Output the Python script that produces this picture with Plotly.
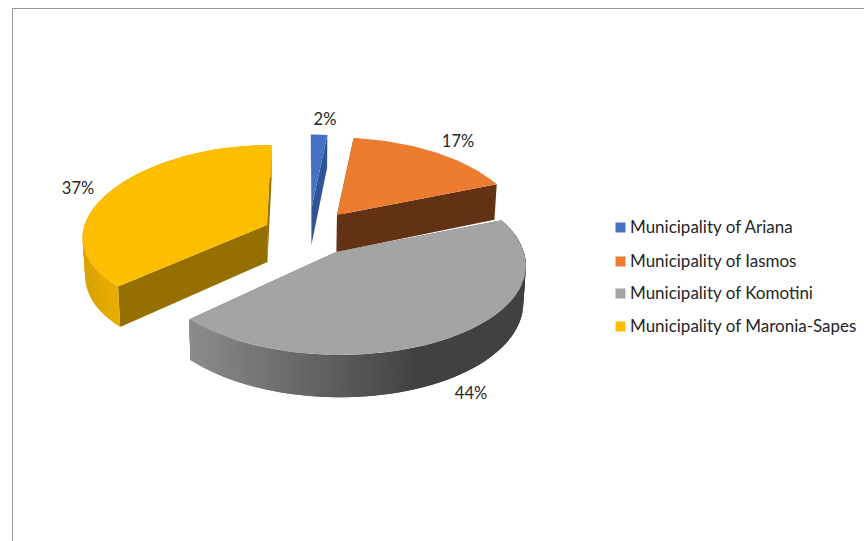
import math
import plotly.graph_objects as go

# Share of each municipality, in percent
municipalities = ["Municipality of Ariana", "Municipality of Iasmos",
                  "Municipality of Komotini", "Municipality of Maronia-Sapes"]
shares = [2, 17, 44, 37]

# Appearance of each slice; only the two front slices show their outer wall
top_colors = ["#4472C4", "#EC7C30", "#A4A4A4", "#FDBE00"]
cut_colors = ["#2F5597", "#633214", "#5F5F5F", "#957000"]
rim_ramps = [None,
             None,
             ("#8C8C8C", "#414141", 188, 420),
             ("#D8A200", "#EAB000", 82, 122)]

# Exploded position of each slice's apex, on the page
apex_x = [311.5, 337, 336, 267]
apex_y = [208, 215, 252, 225]

# Projection of the tilted disc, with a small correction per slice
RX, RY = 186, 90
PERSPECTIVE = 0.126
THICKNESS = 37
VANISH_X = 305
BOTTOM_SHRINK = 0.988
radius_x = [0.8, 0.975, 1.01, 0.98]
radius_y = [0.92, 0.97, 1.0, 0.95]
persp_y = [0.126, 0.126, 0.126, 0.07]

label_x = [325, 458, 471, 78]
label_y = [120.5, 142.5, 394.5, 189.5]
legend_y = [227, 261, 293, 326]

FONT = "Lato, Carlito, Calibri, sans-serif"


def project(i, theta, radius, lowered=False):
    c, n = math.cos(theta), math.sin(theta)
    s = 1 / (1 + PERSPECTIVE * radius * c)
    sy = 1 / (1 + persp_y[i] * radius * c)
    x = VANISH_X + (apex_x[i] - VANISH_X + radius * radius_x[i] * RX * n) * s
    y = apex_y[i] - radius * radius_y[i] * RY * c * sy
    if lowered:
        x = VANISH_X + (x - VANISH_X) * BOTTOM_SHRINK
        y += THICKNESS * s
    return x, y


def mix(c0, c1, t):
    t = min(1, max(0, t))
    a = [int(c0[i:i + 2], 16) for i in (1, 3, 5)]
    b = [int(c1[i:i + 2], 16) for i in (1, 3, 5)]
    return "rgb({},{},{})".format(*[round(p + (q - p) * t) for p, q in zip(a, b)])


def polygon(points, color):
    xs, ys = zip(*points)
    return go.Scatter(x=list(xs) + [xs[0]], y=list(ys) + [ys[0]], mode="lines",
                      fill="toself", fillcolor=color,
                      line=dict(color=color, width=0),
                      hoverinfo="skip", showlegend=False)


fig = go.Figure()

# Slice angles run clockwise from twelve o'clock
total = sum(shares)
starts, ends, running = [], [], 0
for value in shares:
    starts.append(2 * math.pi * running / total)
    running += value
    ends.append(2 * math.pi * running / total)

# Back slices first so the nearer ones overlap them
for i in [0, 1, 3, 2]:
    a0, a1 = starts[i], ends[i]
    steps = max(6, int(shares[i] * 2))
    step = (a1 - a0) / steps
    angles = [a0 + step * k for k in range(steps + 1)]

    # The two cut faces
    for edge in (a0, a1):
        fig.add_trace(polygon([project(i, edge, 0), project(i, edge, 1),
                               project(i, edge, 1, True), project(i, edge, 0, True)],
                              cut_colors[i]))

    # Outer wall, shaded strip by strip; each strip runs under the next to hide seams
    if rim_ramps[i]:
        c0, c1, x0, x1 = rim_ramps[i]
        for p in angles[:-1]:
            q = p + step
            far = min(q + step, a1)
            quad = [project(i, p, 1), project(i, far, 1),
                    project(i, far, 1, True), project(i, p, 1, True)]
            mid_x = (project(i, p, 1)[0] + project(i, q, 1)[0]) / 2
            fig.add_trace(polygon(quad, mix(c0, c1, (mid_x - x0) / (x1 - x0))))

    # Top face
    rim = [project(i, t, 1) for t in angles]
    fig.add_trace(polygon([project(i, 0, 0)] + rim, top_colors[i]))

# Percentage labels
fig.add_trace(go.Scatter(x=label_x, y=label_y, mode="text",
                         text=[f"{v}%" for v in shares],
                         textposition="middle center",
                         textfont=dict(family=FONT, size=16.5, color="#262626"),
                         hoverinfo="skip", showlegend=False))

# Key on the right
fig.add_trace(go.Scatter(x=[620.5] * 4, y=[v + 0.5 for v in legend_y], mode="markers",
                         marker=dict(symbol="square", size=10, color=top_colors, line=dict(width=0)),
                         hoverinfo="skip", showlegend=False))
fig.add_trace(go.Scatter(x=[630] * 4, y=[v + 1.5 for v in legend_y], mode="text", text=municipalities,
                         textposition="middle right",
                         textfont=dict(family=FONT, size=17, color="#262626"),
                         hoverinfo="skip", showlegend=False))

fig.update_layout(
    width=864, height=541, margin=dict(l=0, r=0, t=0, b=0),
    paper_bgcolor="white", plot_bgcolor="white",
    xaxis=dict(range=[0, 864], visible=False, fixedrange=True),
    yaxis=dict(range=[541, 0], visible=False, fixedrange=True),
    shapes=[dict(type="line", x0=12.5, x1=864, y0=8.5, y1=8.5, line=dict(color="#989898", width=1)),
            dict(type="line", x0=12.5, x1=12.5, y0=8.5, y1=541, line=dict(color="#989898", width=1))],
)

fig.write_html("out.html", config={"displayModeBar": False})
